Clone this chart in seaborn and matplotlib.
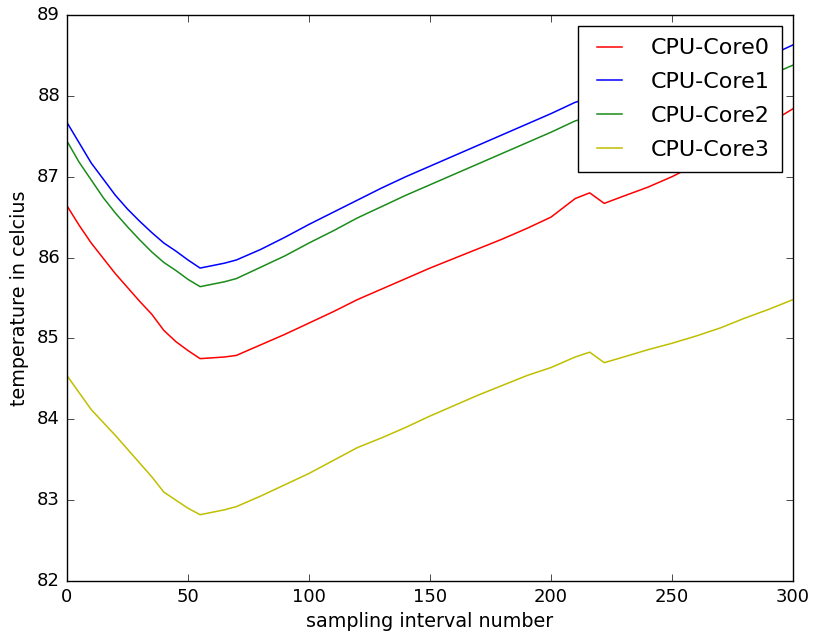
import matplotlib
matplotlib.use("Agg")
import matplotlib.pyplot as plt
import seaborn as sns
import pandas as pd

x_vals = [0, 5, 10, 15, 20, 25, 30, 35, 40, 45, 50, 55, 60, 65, 70, 80, 90, 100,
          110, 120, 130, 140, 150, 160, 170, 180, 190, 200, 210, 216, 222, 230,
          240, 250, 260, 270, 275, 280, 290, 300]

core0 = [86.64, 86.40, 86.18, 85.99, 85.80, 85.63, 85.46, 85.30, 85.10, 84.96,
         84.85, 84.75, 84.76, 84.77, 84.79, 84.92, 85.05, 85.19, 85.33, 85.48,
         85.61, 85.74, 85.87, 85.99, 86.11, 86.23, 86.36, 86.50, 86.73, 86.80,
         86.67, 86.76, 86.87, 87.00, 87.15, 87.31, 87.39, 87.48, 87.66, 87.84]
core1 = [87.67, 87.42, 87.17, 86.97, 86.77, 86.60, 86.45, 86.31, 86.18, 86.08,
         85.97, 85.87, 85.90, 85.93, 85.97, 86.10, 86.25, 86.41, 86.56, 86.71,
         86.86, 87.00, 87.13, 87.26, 87.39, 87.52, 87.65, 87.78, 87.92, 87.97,
         87.84, 87.92, 88.00, 88.08, 88.17, 88.26, 88.31, 88.36, 88.49, 88.63]
core2 = [87.44, 87.18, 86.96, 86.74, 86.55, 86.38, 86.22, 86.07, 85.94, 85.84,
         85.73, 85.64, 85.67, 85.70, 85.74, 85.88, 86.02, 86.18, 86.33, 86.49,
         86.63, 86.77, 86.90, 87.03, 87.16, 87.29, 87.42, 87.55, 87.69, 87.74,
         87.61, 87.69, 87.77, 87.85, 87.94, 88.03, 88.08, 88.13, 88.25, 88.38]
core3 = [84.54, 84.33, 84.12, 83.96, 83.80, 83.63, 83.46, 83.29, 83.10, 83.00,
         82.90, 82.82, 82.85, 82.88, 82.92, 83.05, 83.19, 83.33, 83.49, 83.65,
         83.77, 83.90, 84.04, 84.17, 84.30, 84.42, 84.54, 84.64, 84.77, 84.83,
         84.70, 84.77, 84.86, 84.94, 85.03, 85.13, 85.19, 85.25, 85.36, 85.48]

series_names = ["CPU-Core0", "CPU-Core1", "CPU-Core2", "CPU-Core3"]
series_values = [core0, core1, core2, core3]
x_ticks = [0, 50, 100, 150, 200, 250, 300]
y_ticks = [82, 83, 84, 85, 86, 87, 88, 89]

plt.style.use("classic")
plt.rcParams["font.family"] = ["DejaVu Sans"]

frames = []
for name, vals in zip(series_names, series_values):
    frames.append(pd.DataFrame({"x": x_vals, "temp": vals, "core": name}))
df = pd.concat(frames, ignore_index=True)

palette = {"CPU-Core0": (1.0, 0.0, 0.0), "CPU-Core1": (0.0, 0.0, 1.0),
           "CPU-Core2": (0.1, 0.55, 0.1), "CPU-Core3": (0.75, 0.75, 0.0)}

fig = plt.figure(figsize=(8.13, 6.37), dpi=100, facecolor="white")
ax = fig.add_axes([0.0824, 0.0879, 0.8930, 0.8886])
ax.set_facecolor("white")
sns.lineplot(data=df, x="x", y="temp", hue="core", palette=palette,
             linewidth=1.1, ax=ax, legend=False, estimator=None)

ax.set_xlim(0, 300)
ax.set_ylim(82, 89)
ax.set_xticks(x_ticks)
ax.set_yticks(y_ticks)
ax.tick_params(axis="both", labelsize=13, direction="in", length=5,
               top=True, right=True, pad=5)
ax.set_xlabel("sampling interval number", fontsize=13.8, labelpad=4)
ax.set_ylabel("temperature in celcius", fontsize=13.8, labelpad=6)
for sp in ax.spines.values():
    sp.set_color("black")
    sp.set_linewidth(1.0)

handles = ax.get_lines()[:4]
leg = ax.legend(handles, series_names, loc="upper right", fontsize=16,
                frameon=True, fancybox=False, borderaxespad=0.5,
                handlelength=1.7, handletextpad=1.0, borderpad=0.55,
                labelspacing=0.62)
leg.get_frame().set_edgecolor("black")

fig.savefig("out.png", dpi=100, facecolor="white")
